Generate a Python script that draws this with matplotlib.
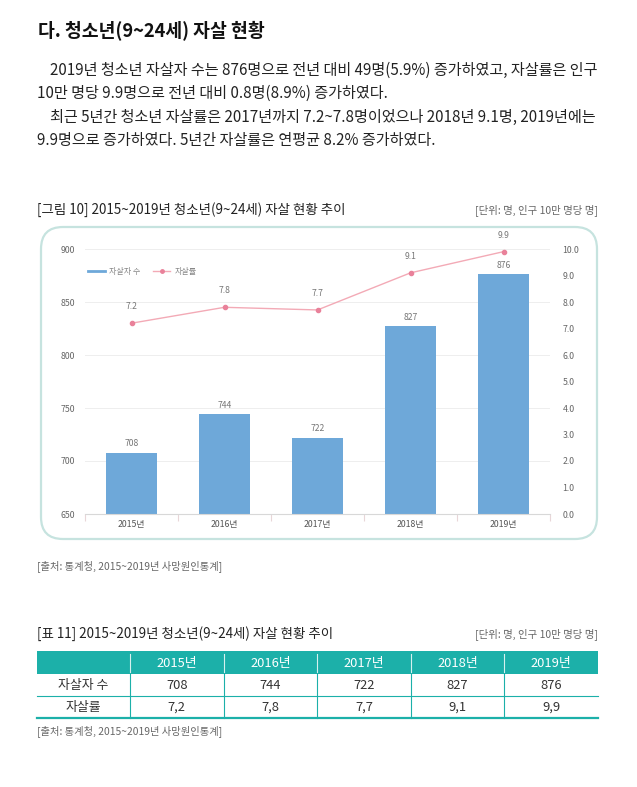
import matplotlib
matplotlib.use("Agg")
import matplotlib.pyplot as plt
from matplotlib.patches import FancyBboxPatch, Rectangle
from matplotlib.lines import Line2D

plt.rcParams['font.family'] = ['Noto Sans CJK KR', 'DejaVu Sans']

# ---------------- data ----------------
years = ["2015년", "2016년", "2017년", "2018년", "2019년"]
suicides = [708, 744, 722, 827, 876]
rates = [7.2, 7.8, 7.7, 9.1, 9.9]
left_ticks = [650, 700, 750, 800, 850, 900]
right_ticks = [0.0, 1.0, 2.0, 3.0, 4.0, 5.0, 6.0, 7.0, 8.0, 9.0, 10.0]
row_labels = ["자살자 수", "자살률"]

title = "다. 청소년(9~24세) 자살 현황"
para = [
    "2019년 청소년 자살자 수는 876명으로 전년 대비 49명(5.9%) 증가하였고, 자살률은 인구",
    "10만 명당 9.9명으로 전년 대비 0.8명(8.9%) 증가하였다.",
    "최근 5년간 청소년 자살률은 2017년까지 7.2~7.8명이었으나 2018년 9.1명, 2019년에는",
    "9.9명으로 증가하였다. 5년간 자살률은 연평균 8.2% 증가하였다.",
]
fig_caption = "[그림 10] 2015~2019년 청소년(9~24세) 자살 현황 추이"
tab_caption = "[표 11] 2015~2019년 청소년(9~24세) 자살 현황 추이"
unit_text = "[단위: 명, 인구 10만 명당 명]"
source_text = "[출처: 통계청, 2015~2019년 사망원인통계]"

W, H = 637, 787
fig = plt.figure(figsize=(W / 100, H / 100), dpi=100)
fig.patch.set_facecolor("white")

# overlay in pixel coordinates
ov = fig.add_axes([0, 0, 1, 1], zorder=0)
ov.set_xlim(0, W)
ov.set_ylim(H, 0)
ov.axis("off")

dark = "#222222"
ov.text(38, 31, title, fontsize=13.2, fontweight="bold", color="#111111", va="center", ha="left")

para_x = [50, 37, 50, 37]
para_y = [70, 93, 117, 140]
for x, y, line in zip(para_x, para_y, para):
    ov.text(x, y, line, fontsize=10.9, color=dark, va="center", ha="left")

ov.text(37, 210, fig_caption, fontsize=9.7, color=dark, va="center", ha="left")
ov.text(598, 210, unit_text, fontsize=7.5, color="#666666", va="center", ha="right")

box = FancyBboxPatch((41, 227), 556, 312, boxstyle="round,pad=0,rounding_size=22",
                     facecolor="white", edgecolor="#c6e3df", linewidth=1.6)
ov.add_patch(box)

ov.text(37, 566, source_text, fontsize=7.4, color="#666666", va="center", ha="left")

# ---------------- chart ----------------
L, R, T, B = 85, 550, 249, 514
ax = fig.add_axes([L / W, 1 - B / H, (R - L) / W, (B - T) / H], zorder=1)
ax.patch.set_alpha(0)
x = list(range(len(years)))
bar_color = "#6ea8d9"
bars = ax.bar(x, suicides, width=0.55, color=bar_color, zorder=2)
ax.set_xlim(-0.5, len(years) - 0.5)
ax.set_ylim(left_ticks[0], left_ticks[-1])
ax.set_yticks(left_ticks)
ax.set_yticklabels([str(v) for v in left_ticks])
ax.set_xticks(x)
ax.set_xticklabels(years)
ax.set_xticks([i - 0.5 for i in range(len(years) + 1)], minor=True)
ax.tick_params(axis="x", which="major", length=0, pad=4, labelsize=6.3, labelcolor="#555555")
ax.tick_params(axis="x", which="minor", length=5, color="#e8d6d8", width=0.8, direction="out")
ax.tick_params(axis="y", length=0, pad=7, labelsize=6.3, labelcolor="#666666")
for s in ["top", "left", "right"]:
    ax.spines[s].set_visible(False)
ax.spines["bottom"].set_color("#d8d8d8")
ax.spines["bottom"].set_linewidth(0.8)
ax.grid(axis="y", color="#eeeeee", linewidth=0.7, zorder=0)
ax.set_axisbelow(True)
for xi, v in zip(x, suicides):
    ax.text(xi, v + 4, str(v), ha="center", va="bottom", fontsize=6.2, color="#777777")

ax2 = ax.twinx()
ax2.set_zorder(2)
ax2.patch.set_alpha(0)
ax2.plot(x, rates, color="#f3aab6", linewidth=1.0, marker="o", markersize=3,
         markerfacecolor="#e9819a", markeredgecolor="#e9819a", zorder=3)
ax2.set_ylim(right_ticks[0], right_ticks[-1])
ax2.set_yticks(right_ticks)
ax2.set_yticklabels([f"{v:.1f}" for v in right_ticks])
ax2.tick_params(axis="y", length=0, pad=9, labelsize=6.3, labelcolor="#666666")
for s in ["top", "left", "right", "bottom"]:
    ax2.spines[s].set_visible(False)
for xi, v in zip(x, rates):
    ax2.text(xi, v + 0.45, f"{v:.1f}", ha="center", va="bottom", fontsize=6.2, color="#777777")

handles = [Line2D([0], [0], color=bar_color, linewidth=2),
           Line2D([0], [0], color="#f3aab6", linewidth=1, marker="o", markersize=2.5,
                  markerfacecolor="#e9819a", markeredgecolor="#e9819a")]
ax.legend(handles, ["자살자 수", "자살률"], loc="upper left", bbox_to_anchor=(-0.01, 0.96),
          ncol=2, frameon=False, fontsize=5.8, labelcolor="#888888", handlelength=2.2,
          columnspacing=1.5, handletextpad=0.5)

# ---------------- table ----------------
ov.text(37, 634, tab_caption, fontsize=9.7, color=dark, va="center", ha="left")
ov.text(598, 634, unit_text, fontsize=7.5, color="#666666", va="center", ha="right")

teal = "#1cb0a9"
tx0, tx1 = 37, 598
col0 = 130
ncol = len(years)
cw = (tx1 - col0) / ncol
hy0, hy1 = 651, 674
ry = [674, 696, 718]
ov.add_patch(Rectangle((tx0, hy0), tx1 - tx0, hy1 - hy0, facecolor=teal, edgecolor="none"))
for j, yr in enumerate(years):
    cx = col0 + cw * (j + 0.5)
    ov.text(cx, (hy0 + hy1) / 2 + 0.5, yr, ha="center", va="center", fontsize=9.3, color="white")
# header separators (white)
for j in range(ncol):
    xx = col0 + cw * j
    ov.plot([xx, xx], [hy0 + 3, hy1 - 2], color="#d6f0ee", linewidth=0.8)
# body lines
ov.plot([tx0, tx1], [ry[1], ry[1]], color=teal, linewidth=0.8)
ov.plot([tx0, tx1], [ry[2], ry[2]], color=teal, linewidth=1.6)
for j in range(ncol):
    xx = col0 + cw * j
    ov.plot([xx, xx], [ry[0], ry[2]], color=teal, linewidth=0.8)
rows = [[str(v) for v in suicides], [f"{v:.1f}".replace(".", ",") for v in rates]]
for i, (lab, vals) in enumerate(zip(row_labels, rows)):
    cy = (ry[i] + ry[i + 1]) / 2 + 0.5
    ov.text((tx0 + col0) / 2, cy, lab, ha="center", va="center", fontsize=9.3, color="#333333")
    for j, v in enumerate(vals):
        ov.text(col0 + cw * (j + 0.5), cy, v, ha="center", va="center", fontsize=9.3, color="#333333")

ov.text(37, 731, source_text, fontsize=7.4, color="#666666", va="center", ha="left")

fig.savefig("out.png", dpi=100, facecolor="white")
